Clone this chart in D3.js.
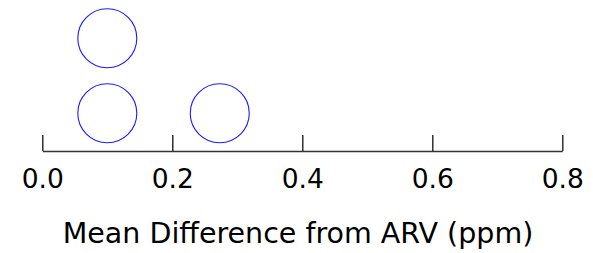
<!DOCTYPE html>
<head>
    <script src="https://d3js.org/d3.v7.min.js"></script>
    <title>Mean Difference from ARV</title>
    <style>
        body { margin: 0; background: white; }
        text { font-family: "DejaVu Sans", Verdana, sans-serif; fill: black; }
    </style>
</head>
<body>
<svg width="593" height="253" class="chart" style="background-color: white"></svg>
<script>
    // values (ppm)
    const values = [0.1, 0.1, 0.273];
    const tickValues = [0, 0.2, 0.4, 0.6, 0.8];
    const axisTitle = "Mean Difference from ARV (ppm)";

    const svg = d3.select(".chart");
    const axisY = 151;

    const x = d3.scaleLinear().domain([0, 0.8]).range([42.3, 562.3]);
    // stack level -> centre y
    const y = d3.scaleLinear().domain([0, 1]).range([113.3, 38.3]);

    // stack identical values
    const counts = {};
    const dots = values.map(function(v){
        const k = v.toFixed(3);
        counts[k] = (counts[k] || 0);
        const level = counts[k];
        counts[k] += 1;
        return {value: v, level: level};
    });

    const axis = d3.axisTop(x)
        .tickValues(tickValues)
        .tickSize(16)
        .tickSizeOuter(0)
        .tickFormat(d3.format(".1f"));

    const g = svg.append("g")
        .attr("transform", "translate(0," + axisY + ")")
        .call(axis);
    g.select(".domain").attr("stroke", "#333").attr("stroke-width", 1.6);
    g.selectAll(".tick line").attr("stroke", "#222").attr("stroke-width", 1.4);
    g.selectAll(".tick text")
        .attr("y", 37.3)
        .attr("dy", 0)
        .style("font-size", "26.5px")
        .style("font-family", "DejaVu Sans, Verdana, sans-serif")
        .attr("fill", "black");

    svg.append("text")
        .attr("x", 298)
        .attr("y", 243.3)
        .attr("text-anchor", "middle")
        .style("font-size", "28.5px")
        .text(axisTitle);

    svg.append("g")
        .selectAll("circle")
        .data(dots)
        .enter()
        .append("circle")
        .attr("cx", function(d){ return x(d.value); })
        .attr("cy", function(d){ return y(d.level); })
        .attr("r", 29.5)
        .attr("fill", "none")
        .attr("stroke", "#1a1aff")
        .attr("stroke-width", 1.1);
</script>
</body>
